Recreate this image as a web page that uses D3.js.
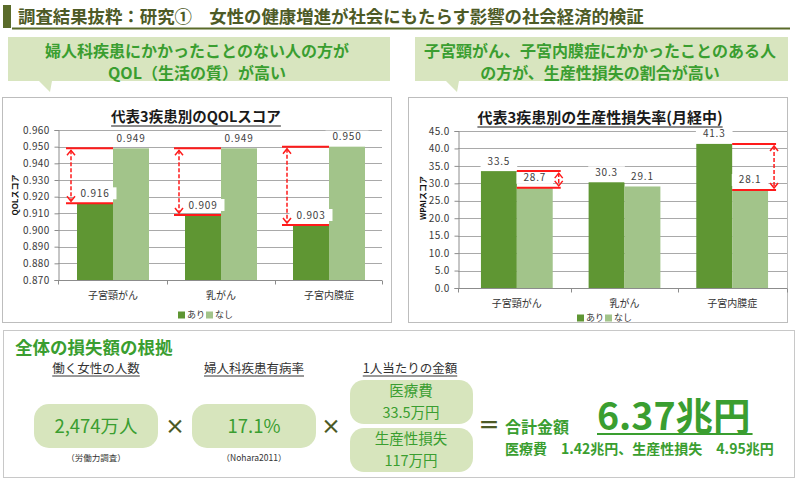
<!DOCTYPE html>
<html><head><meta charset="utf-8">
<script src="https://cdn.jsdelivr.net/npm/d3@7"></script>
<style>
body{margin:0;background:#fff}
svg{display:block}
text{font-family:"Noto Sans CJK JP","Noto Sans",sans-serif}
</style></head>
<body><svg id="c" width="800" height="483"></svg>
<script>
// ---------- data ----------
const pageTitle = "調査結果抜粋：研究①　女性の健康増進が社会にもたらす影響の社会経済的検証";
const calloutLeft = ["婦人科疾患にかかったことのない人の方が", "QOL（生活の質）が高い"];
const calloutRight = ["子宮頸がん、子宮内膜症にかかったことのある人", "の方が、生産性損失の割合が高い"];
const categories = ["子宮頸がん", "乳がん", "子宮内膜症"];
const series = ["あり", "なし"];
const qolAri = [0.916, 0.909, 0.903];
const qolNashi = [0.949, 0.949, 0.950];
const qolTicks = [0.870, 0.880, 0.890, 0.900, 0.910, 0.920, 0.930, 0.940, 0.950, 0.960];
const qolArrows = [0, 1, 2];
const wpaiAri = [33.5, 30.3, 41.3];
const wpaiNashi = [28.7, 29.1, 28.1];
const wpaiTicks = [0, 5, 10, 15, 20, 25, 30, 35, 40, 45];
const wpaiArrows = [0, 2];
const lossHeaders = ["働く女性の人数", "婦人科疾患有病率", "1人当たりの金額"];
const lossValues = ["2,474万人", "17.1%"];
const lossSources = ["（労働力調査）", "（Nohara2011）"];
const perPerson = [["医療費", "33.5万円"], ["生産性損失", "117万円"]];
const totalLabel = "合計金額";
const totalValue = "6.37兆円";
const totalBreakdown = "医療費　1.42兆円、生産性損失　4.95兆円";

// ---------- styles ----------
const svg = d3.select("#c");
const cDark = "#5f9633", cLight = "#a2c48a";
const green = "#3a9e30", olive = "#4d5a26", calloutFill = "#d8e5bf", pillFill = "#d7e5bd";
const red = "#ff1a1a";

// ---------- header ----------
svg.append("rect").attr("x", 3).attr("y", 5).attr("width", 8).attr("height", 23).attr("fill", "#5a6b2a");
svg.append("text").attr("x", 18).attr("y", 23).attr("font-size", 17.4).attr("font-weight", 700)
  .attr("fill", olive).text(pageTitle);
svg.append("line").attr("x1", 12).attr("x2", 790).attr("y1", 28.5).attr("y2", 28.5)
  .attr("stroke", "#5a6b2a").attr("stroke-width", 2);

function callout(x0, x1, y0, y1, px0, px1, tx, ty, lines, cx) {
  svg.append("path").attr("d", `M${x0},${y0}H${x1}V${y1}H${px1}L${tx},${ty}L${px0},${y1}H${x0}Z`)
    .attr("fill", calloutFill);
  lines.forEach((t, i) => {
    svg.append("text").attr("x", cx).attr("y", 51 + i * 22).attr("dy", "0.36em")
      .attr("text-anchor", "middle").attr("font-size", 16).attr("font-weight", 700)
      .attr("fill", green).text(t);
  });
}
callout(8, 390, 37, 81, 39, 52, 50, 92, calloutLeft, 197);
callout(415, 788, 37, 81, 446, 459, 457, 92, calloutRight, 600);

// panels
svg.append("rect").attr("x", 2.5).attr("y", 97.5).attr("width", 389).attr("height", 225)
  .attr("fill", "#fff").attr("stroke", "#bdbdbd");
svg.append("rect").attr("x", 408.5).attr("y", 97.5).attr("width", 379).attr("height", 225)
  .attr("fill", "#fff").attr("stroke", "#bdbdbd");

function underlinedText(x, y, txt, size, weight, color, lineColor, lineGap, lw) {
  const t = svg.append("text").attr("x", x).attr("y", y).attr("text-anchor", "middle")
    .attr("font-size", size).attr("font-weight", weight).attr("fill", color).text(txt);
  const w = t.node().getComputedTextLength();
  svg.append("line").attr("x1", x - w / 2).attr("x2", x + w / 2)
    .attr("y1", y + lineGap).attr("y2", y + lineGap)
    .attr("stroke", lineColor).attr("stroke-width", lw);
  return t;
}

function drawChart(cfg) {
  const g = svg.append("g");
  const y = d3.scaleLinear().domain([cfg.ticks[0], cfg.ticks[cfg.ticks.length - 1]]).range(cfg.yRange);
  const x = d3.scaleBand().domain(categories).range(cfg.xRange).paddingInner(1 / 3).paddingOuter(1 / 6);
  const xs = d3.scaleBand().domain(series).range([0, x.bandwidth()]);
  const bw = xs.bandwidth();
  const base = cfg.ticks[0];

  // gridlines
  g.selectAll("line.grid").data(cfg.ticks.slice(1)).join("line")
    .attr("x1", cfg.axisX).attr("x2", cfg.gridEnd)
    .attr("y1", d => Math.round(y(d)) + 0.5).attr("y2", d => Math.round(y(d)) + 0.5)
    .attr("stroke", "#a9a9a9").attr("stroke-width", 1);

  // y axis
  const ax = g.append("g").attr("transform", `translate(${cfg.axisX + 0.5},0)`)
    .call(d3.axisLeft(y).tickValues(cfg.ticks).tickFormat(cfg.fmt).tickSize(4).tickPadding(5));
  ax.select(".domain").attr("stroke", "#8c8c8c");
  ax.selectAll(".tick line").attr("stroke", "#8c8c8c");
  ax.selectAll(".tick text").attr("font-size", 10).attr("fill", "#3a3a3a")
    .attr("font-family", "'DejaVu Sans',sans-serif").style("letter-spacing", "0.3px");

  // x base line and category ticks
  const y0 = Math.round(y(base)) + 0.5;
  g.append("line").attr("x1", cfg.axisX).attr("x2", cfg.gridEnd).attr("y1", y0).attr("y2", y0)
    .attr("stroke", "#8c8c8c");
  const bounds = [cfg.axisX, x(categories[1]) - x.step() * x.paddingInner() / 2,
    x(categories[2]) - x.step() * x.paddingInner() / 2, cfg.gridEnd];
  g.selectAll("line.ct").data(bounds).join("line")
    .attr("x1", d => Math.round(d) + 0.5).attr("x2", d => Math.round(d) + 0.5)
    .attr("y1", y0).attr("y2", y0 + 4).attr("stroke", "#8c8c8c");

  // bars
  const rows = categories.map((c, i) => ({ c, i, vals: [cfg.ari[i], cfg.nashi[i]] }));
  rows.forEach(r => {
    r.vals.forEach((v, k) => {
      g.append("rect").attr("x", x(r.c) + xs(series[k])).attr("width", bw)
        .attr("y", y(v)).attr("height", y(base) - y(v))
        .attr("fill", k === 0 ? cDark : cLight);
    });
  });

  // data labels with white boxes
  rows.forEach(r => {
    r.vals.forEach((v, k) => {
      const cx = x(r.c) + xs(series[k]) + bw / 2;
      const cy = y(v) - 10;
      const t = g.append("text").attr("x", cx).attr("y", cy).attr("dy", "0.35em")
        .attr("text-anchor", "middle").attr("font-size", 10).attr("fill", "#404040")
        .attr("font-family", "'DejaVu Sans',sans-serif").style("letter-spacing", "0.8px")
        .text(cfg.labelFmt(v));
      const w = t.node().getComputedTextLength();
      g.insert("rect", () => t.node()).attr("x", cx - w / 2 - 7).attr("y", cy - 6)
        .attr("width", w + 14).attr("height", 12).attr("fill", "#fff");
    });
  });

  // red annotations
  const ann = g.append("g").attr("stroke", red).attr("fill", "none");
  cfg.arrows.forEach(i => {
    const c = categories[i];
    const ariL = x(c) + xs("あり"), ariR = ariL + bw, nashiR = x(c) + xs("なし") + bw;
    let axX, lx0, lx1;
    if (cfg.side === "left") { axX = ariL - 6; lx0 = axX - 5; lx1 = ariR; }
    else { axX = nashiR + 6; lx0 = ariR; lx1 = axX + 2; }
    const ya = y(cfg.ari[i]), yn = y(cfg.nashi[i]);
    const yt = Math.min(ya, yn), yb = Math.max(ya, yn);
    [yt, yb].forEach(yy => ann.append("line").attr("x1", lx0).attr("x2", lx1)
      .attr("y1", yy).attr("y2", yy).attr("stroke-width", 2));
    ann.append("line").attr("x1", axX).attr("x2", axX).attr("y1", yt + 2).attr("y2", yb - 2)
      .attr("stroke-width", 1.5).attr("stroke-dasharray", "4,2");
    const h = Math.min(5, (yb - yt) / 2 - 1);
    ann.append("path").attr("d", `M${axX - 4},${yt + 2 + h}L${axX},${yt + 2}L${axX + 4},${yt + 2 + h}`)
      .attr("stroke-width", 1.5);
    ann.append("path").attr("d", `M${axX - 4},${yb - 2 - h}L${axX},${yb - 2}L${axX + 4},${yb - 2 - h}`)
      .attr("stroke-width", 1.5);
  });

  // category labels
  categories.forEach(c => {
    g.append("text").attr("x", x(c) + x.bandwidth() / 2).attr("y", cfg.catY).attr("dy", "0.35em")
      .attr("text-anchor", "middle").attr("font-size", 10).attr("fill", "#333").text(c);
  });

  // legend
  series.forEach((s, k) => {
    const lx = cfg.legendX + k * 28;
    g.append("rect").attr("x", lx).attr("y", cfg.legendY - 3.5).attr("width", 7).attr("height", 7)
      .attr("fill", k === 0 ? cDark : cLight);
    g.append("text").attr("x", lx + 9).attr("y", cfg.legendY).attr("dy", "0.35em")
      .attr("font-size", 9).attr("fill", "#333").text(s);
  });

  // title
  underlinedText(cfg.titleX, cfg.titleY, cfg.title, cfg.titleSize, 700, "#1a1a1a", "#1a1a1a", 4, 1.2);

  // y title
  g.append("text").attr("transform", `translate(${cfg.yTitleX},${cfg.yTitleY}) rotate(-90)`)
    .attr("text-anchor", "middle").attr("dy", "0.35em").attr("font-size", 8).attr("font-weight", 700)
    .attr("fill", "#111").text(cfg.yTitle);
}

drawChart({
  title: "代表3疾患別のQOLスコア", titleX: 196, titleY: 122, titleSize: 14.5,
  yTitle: "QOLスコア", yTitleX: 15, yTitleY: 195,
  ticks: qolTicks, fmt: d3.format(".3f"), labelFmt: d3.format(".3f"),
  ari: qolAri, nashi: qolNashi, arrows: qolArrows, side: "left",
  yRange: [280, 130], xRange: [59, 383], axisX: 58, gridEnd: 382,
  catY: 295, legendX: 178, legendY: 315
});
drawChart({
  title: "代表3疾患別の生産性損失率(月経中)", titleX: 600, titleY: 123, titleSize: 15,
  yTitle: "WPAIスコア", yTitleX: 423, yTitleY: 198,
  ticks: wpaiTicks, fmt: d3.format(".1f"), labelFmt: d3.format(".1f"),
  ari: wpaiAri, nashi: wpaiNashi, arrows: wpaiArrows, side: "right",
  yRange: [288, 131], xRange: [463, 786], axisX: 458, gridEnd: 787,
  catY: 303, legendX: 577, legendY: 318
});

// ---------- bottom panel ----------
svg.append("rect").attr("x", 3.5).attr("y", 330.5).attr("width", 791).attr("height", 147)
  .attr("fill", "#fff").attr("stroke", "#c8c8c8");
svg.append("text").attr("x", 15).attr("y", 354).attr("font-size", 17.5).attr("font-weight", 700)
  .attr("fill", green).text("全体の損失額の根拠");

const colX = [96, 254, 410];
lossHeaders.forEach((h, i) => underlinedText(colX[i], 373, h, 12.5, 400, "#333", "#333", 3, 1));

lossValues.forEach((v, i) => {
  const cx = colX[i];
  svg.append("rect").attr("x", cx - 62).attr("y", 404).attr("width", 124).attr("height", 44)
    .attr("rx", 15).attr("fill", pillFill);
  svg.append("text").attr("x", cx).attr("y", 426).attr("dy", "0.36em").attr("text-anchor", "middle")
    .attr("font-size", 18.5).attr("fill", green).text(v);
  svg.append("text").attr("x", cx).attr("y", 458).attr("dy", "0.36em").attr("text-anchor", "middle")
    .attr("font-size", 8.5).attr("fill", "#333").text(lossSources[i]);
});
[175, 331].forEach(xx => svg.append("text").attr("x", xx).attr("y", 427).attr("dy", "0.36em")
  .attr("text-anchor", "middle").attr("font-size", 20).attr("font-weight", 700).attr("fill", olive).text("×"));

perPerson.forEach((p, i) => {
  const top = 380 + i * 48;
  svg.append("rect").attr("x", 350).attr("y", top).attr("width", 123).attr("height", 44)
    .attr("rx", 14).attr("fill", pillFill);
  p.forEach((s, j) => svg.append("text").attr("x", 411).attr("y", top + 11 + j * 21.5).attr("dy", "0.36em")
    .attr("text-anchor", "middle").attr("font-size", 14.5).attr("fill", green).text(s));
});

svg.append("text").attr("x", 489).attr("y", 425).attr("dy", "0.36em").attr("text-anchor", "middle")
  .attr("font-size", 22).attr("font-weight", 700).attr("fill", olive).text("＝");
svg.append("text").attr("x", 505).attr("y", 433).attr("font-size", 16).attr("font-weight", 700)
  .attr("fill", green).text(totalLabel);
const tv = svg.append("text").attr("x", 597).attr("y", 430).attr("font-size", 37.5).attr("font-weight", 700)
  .attr("fill", green).text(totalValue);
const tvw = tv.node().getComputedTextLength();
svg.append("line").attr("x1", 597).attr("x2", 597 + tvw + 2).attr("y1", 434).attr("y2", 434)
  .attr("stroke", green).attr("stroke-width", 2);
svg.append("text").attr("x", 505).attr("y", 454).attr("font-size", 14).attr("font-weight", 700)
  .attr("fill", green).text(totalBreakdown);
</script></body></html>
